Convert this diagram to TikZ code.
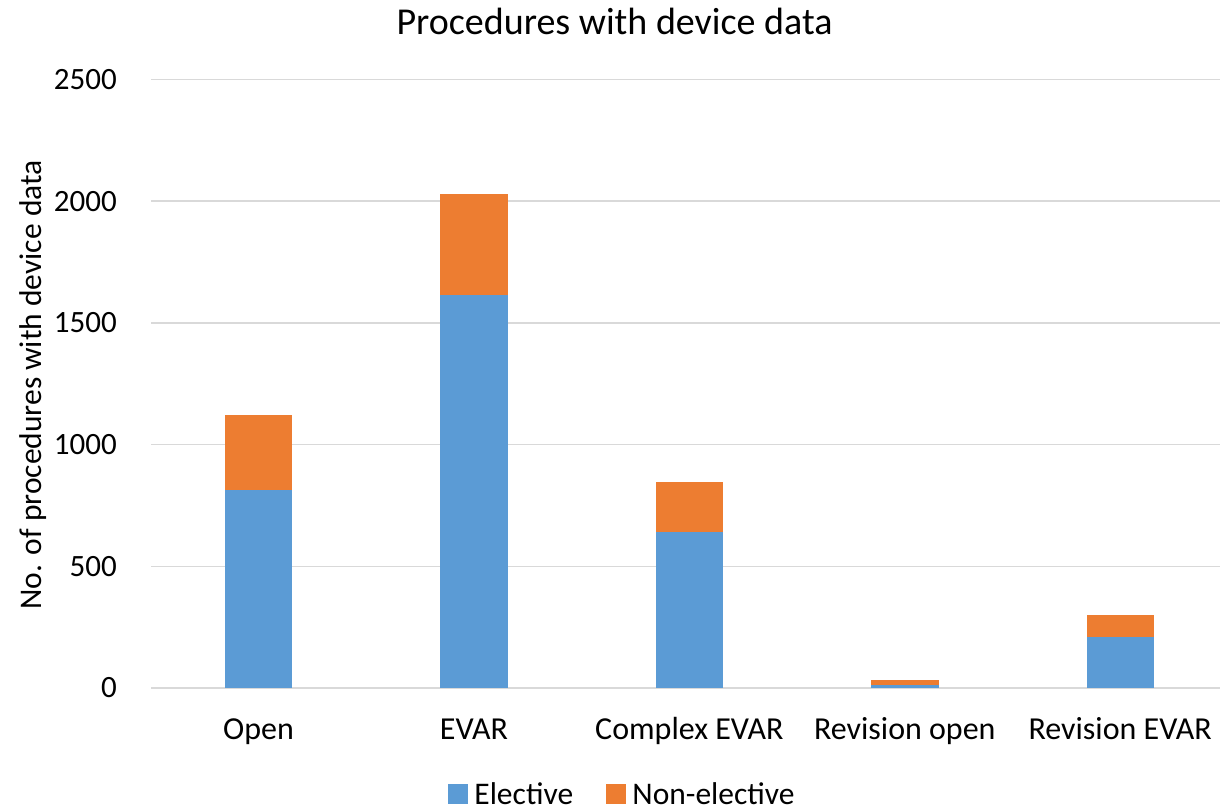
\documentclass[tikz,border=0pt]{standalone}
\usepackage{fontspec}
\setmainfont{Carlito}
\definecolor{elective}{HTML}{5B9BD5}
\definecolor{nonelective}{HTML}{ED7D31}
\definecolor{gridgray}{HTML}{D9D9D9}
\tikzset{
	grid line/.style={draw=gridgray, line width=1.5pt},
	tick label/.style={anchor=east, inner sep=0pt, font=\fontsize{31}{37}\selectfont},
	cat label/.style={anchor=base, inner sep=0pt, font=\fontsize{32}{38}\selectfont},
	legend key/.style={fill=#1, minimum size=20pt, inner sep=0pt},
	legend text/.style={anchor=base west, inner sep=0pt, font=\fontsize{31.5}{38}\selectfont},
}

\begin{document}
\begin{tikzpicture}[x=1pt, y=1pt]
	\useasboundingbox (0,0) rectangle (1220,808);
	% Grid, bars and tick labels (values):
	\begin{scope}[shift={(0,120)}, y=0.2434pt]
		\draw[grid line] (151,0) -- (1228,0);
		\draw[grid line] (151,500) -- (1228,500);
		\draw[grid line] (151,1000) -- (1228,1000);
		\draw[grid line] (151,1500) -- (1228,1500);
		\draw[grid line] (151,2000) -- (1228,2000);
		\draw[grid line] (151,2500) -- (1228,2500);
		\node[tick label] (t0) at (117,0) {0};
		\node[tick label] (t500) at (117,500) {500};
		\node[tick label] (t1000) at (117,1000) {1000};
		\node[tick label] (t1500) at (117,1500) {1500};
		\node[tick label] (t2000) at (117,2000) {2000};
		\node[tick label] (t2500) at (117,2500) {2500};
		\fill[elective] (225,0) rectangle (292.3,812);
		\fill[nonelective] (225,812) rectangle (292.3,1122);
		\fill[elective] (440.4,0) rectangle (507.7,1613);
		\fill[nonelective] (440.4,1613) rectangle (507.7,2028);
		\fill[elective] (655.8,0) rectangle (723.1,640);
		\fill[nonelective] (655.8,640) rectangle (723.1,848);
		\fill[elective] (871.2,0) rectangle (938.5,11);
		\fill[nonelective] (871.2,11) rectangle (938.5,32);
		\fill[elective] (1086.6,0) rectangle (1153.9,208);
		\fill[nonelective] (1086.6,208) rectangle (1153.9,299);
	\end{scope}
	% Texts:
	\node[anchor=base, inner sep=0pt, font=\fontsize{38}{45}\selectfont] (title) at (614.5,773) {Procedures with device data};
	\node[rotate=90, inner sep=0pt, font=\fontsize{31.5}{38}\selectfont] (ylabel) at (33,423) {No. of procedures with device data};
	\node[cat label] (open) at (258.6,68) {Open};
	\node[cat label] (evar) at (474,68) {EVAR};
	\node[cat label] (cevar) at (689.4,68) {Complex EVAR};
	\node[cat label] (ropen) at (904.8,68) {Revision open};
	\node[cat label] (revar) at (1120.2,68) {Revision EVAR};
	% Legend:
	\node[legend key=elective] (keyel) at (458,14) {};
	\node[legend text] (txtel) at ([xshift=6pt]keyel.south east) {Elective};
	\node[legend key=nonelective] (keynon) at (616,14) {};
	\node[legend text] (txtnon) at ([xshift=6pt]keynon.south east) {Non-elective};
\end{tikzpicture}
\end{document}
